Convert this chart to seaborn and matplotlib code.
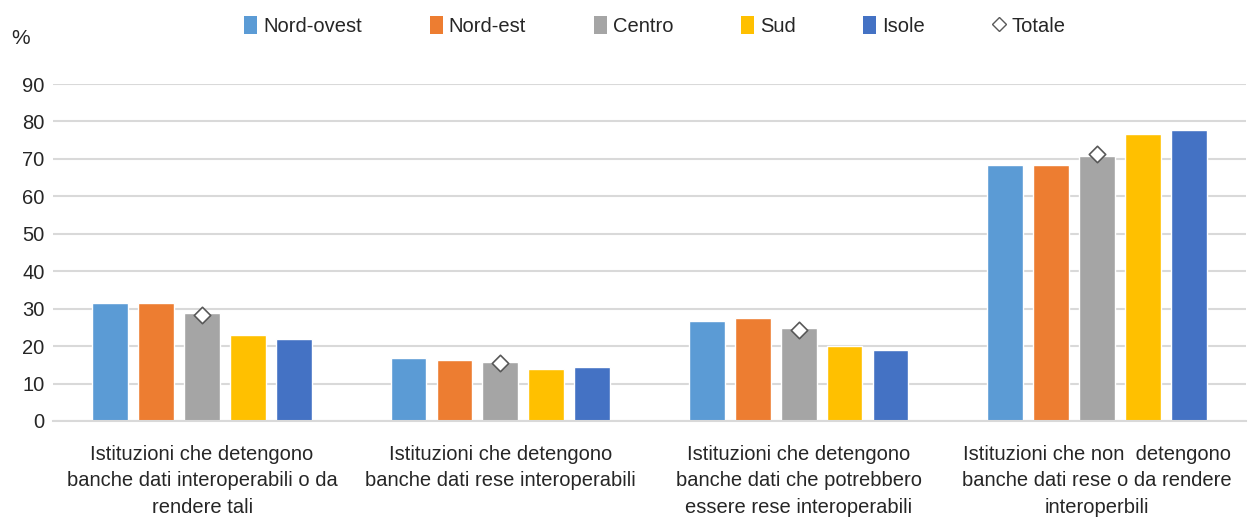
import matplotlib.pyplot as plt
from matplotlib.lines import Line2D
from matplotlib.patches import Patch
import seaborn as sns
import pandas as pd

# categories (x axis)
categorie = ['Istituzioni che detengono\nbanche dati interoperabili o da\nrendere tali',
             'Istituzioni che detengono\nbanche dati rese interoperabili',
             'Istituzioni che detengono\nbanche dati che potrebbero\nessere rese interoperabili',
             'Istituzioni che non  detengono\nbanche dati rese o da rendere\ninteroperbili']
aree = ['Nord-ovest', 'Nord-est', 'Centro', 'Sud', 'Isole']

nord_ovest = [31.4, 16.7, 26.8, 68.4]
nord_est = [31.4, 16.4, 27.4, 68.4]
centro = [28.8, 15.7, 24.8, 70.9]
sud = [23.0, 13.8, 20.0, 76.7]
isole = [21.9, 14.3, 19.0, 77.7]
totale = [28.3, 15.4, 24.3, 71.3]

colori = ['#5B9BD5', '#ED7D31', '#A5A5A5', '#FFC000', '#4472C4']

rows = []
for area, vals in zip(aree, [nord_ovest, nord_est, centro, sud, isole]):
    for c, v in zip(categorie, vals):
        rows.append({'cat': c, 'area': area, 'val': v})
df = pd.DataFrame(rows)

sns.set_style('white')
plt.rcParams['font.family'] = ['Liberation Sans', 'DejaVu Sans']

fig = plt.figure(figsize=(12.5, 5.18), dpi=100)
ax = fig.add_axes([53 / 1250, 97 / 518, 1193 / 1250, 337 / 518])

sns.barplot(data=df, x='cat', y='val', hue='area', order=categorie, hue_order=aree,
            palette=colori, width=0.77, gap=0.22, saturation=1, legend=False, ax=ax)

# Totale markers sit on the Centro bar (middle of each group)
ax.scatter(range(len(categorie)), totale, marker='D', s=70, facecolor='white',
           edgecolor='#595959', linewidth=1.2, zorder=5)

ax.set_ylim(0, 90)
ax.set_yticks(range(0, 91, 10))
ax.set_xlim(-0.5, len(categorie) - 0.5)
ax.yaxis.grid(True, color='#D9D9D9', linewidth=1.5)
ax.set_axisbelow(True)
for s in ['top', 'right', 'left']:
    ax.spines[s].set_visible(False)
ax.spines['bottom'].set_color('#D9D9D9')
ax.spines['bottom'].set_linewidth(1.5)
ax.tick_params(axis='both', length=0, labelsize=14.5, colors='#262626')
ax.tick_params(axis='x', pad=17)
ax.tick_params(axis='y', pad=6)
ax.set_xlabel('')
ax.set_ylabel('')
for t in ax.get_xticklabels():
    t.set_linespacing(1.5)

fig.text(11 / 1250, 1 - 38 / 518, '%', fontsize=15, va='center', color='#262626')

handles = [Patch(facecolor=c, edgecolor='none') for c in colori]
handles.append(Line2D([], [], marker='D', linestyle='none', markersize=7,
                      markerfacecolor='white', markeredgecolor='#595959'))
fig.legend(handles, aree + ['Totale'], loc='center', bbox_to_anchor=(0.524, 1 - 26 / 518),
           ncol=6, frameon=False, fontsize=14.5, handlelength=0.65, handleheight=0.95,
           handletextpad=0.3, columnspacing=3.35)

plt.savefig('out.png', dpi=100)
